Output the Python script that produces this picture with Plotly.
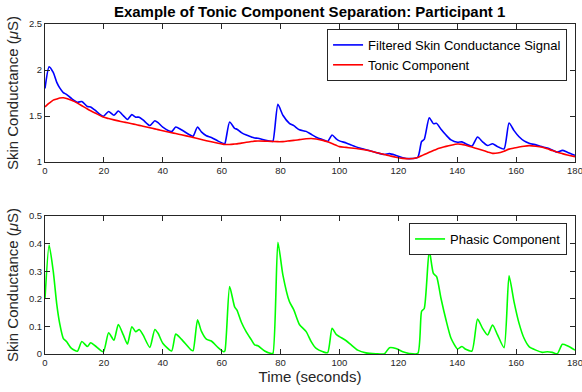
import plotly.graph_objects as go

time_s = [0, 1.4, 2.8, 4.0, 5.0, 6.2, 7.3, 9.0, 11.0, 12.5, 14.4, 15.5, 17.0, 19.8, 21.6, 23.4, 24.9, 26.6, 28.0, 29.5,
          30.8, 32.0, 33.3, 35.6, 37.3, 38.4, 40.0, 43.0, 44.4, 46.3, 49.7, 50.3, 51.8, 53.1, 54.8, 56.5, 58.8, 60.7, 61.1, 62.7,
          64.4, 65.2, 66.7, 68.4, 70.1, 71.2, 72.3, 74.6, 76.8, 77.4, 79.1, 80.8, 83.0, 84.5, 86.4, 88.7, 90.4, 92.1, 94.4, 96.0,
          97.5, 98.9, 100.0, 102.3, 104.0, 106.2, 109.0, 112.4, 115.3, 117.0, 119.2, 121.5, 123.7, 126.6, 127.9, 128.8, 130.5, 131.9, 133.0, 134.5,
          136.2, 137.9, 140.1, 141.6, 142.9, 145.0, 146.9, 148.6, 150.3, 152.0, 153.7, 155.9, 157.6, 159.3, 161.0, 162.7, 164.4, 166.7, 168.9, 170.6,
          172.3, 174.0, 175.7, 177.4, 180.0]

phasic = [0.20, 0.395, 0.30, 0.18, 0.11, 0.057, 0.045, 0.02, 0.01, 0.045, 0.027, 0.041, 0.03, 0.008, 0.077, 0.05, 0.107, 0.069, 0.036, 0.099,
          0.081, 0.089, 0.069, 0.024, 0.089, 0.075, 0.039, 0.011, 0.072, 0.054, 0.014, 0.012, 0.124, 0.083, 0.054, 0.047, 0.023, 0.008, 0.011, 0.244,
          0.171, 0.159, 0.115, 0.079, 0.051, 0.033, 0.03, 0.011, 0.002, 0.002, 0.405, 0.286, 0.19, 0.16, 0.107, 0.081, 0.045, 0.02, 0.008, 0.005,
          0.093, 0.071, 0.063, 0.048, 0.033, 0.014, 0.004, 0.001, 0.001, 0.023, 0.02, 0.008, 0.002, 0.002, 0.155, 0.165, 0.376, 0.292, 0.28, 0.201,
          0.123, 0.057, 0.018, 0.027, 0.017, 0.011, 0.127, 0.093, 0.069, 0.105, 0.069, 0.023, 0.283, 0.189, 0.111, 0.057, 0.027, 0.014, 0.006, 0.008,
          0.006, 0.001, 0.035, 0.03, 0.014]

tonic = [1.600, 1.639, 1.673, 1.685, 1.695, 1.698, 1.690, 1.670, 1.640, 1.612, 1.576, 1.557, 1.533, 1.488, 1.472, 1.458, 1.447, 1.435, 1.426, 1.416,
         1.407, 1.398, 1.389, 1.372, 1.360, 1.352, 1.340, 1.319, 1.309, 1.296, 1.272, 1.268, 1.256, 1.245, 1.232, 1.220, 1.204, 1.192, 1.190, 1.191,
         1.195, 1.197, 1.205, 1.214, 1.222, 1.227, 1.229, 1.227, 1.224, 1.223, 1.221, 1.222, 1.230, 1.235, 1.243, 1.252, 1.256, 1.250, 1.235, 1.219,
         1.200, 1.181, 1.167, 1.159, 1.152, 1.144, 1.130, 1.103, 1.081, 1.068, 1.051, 1.039, 1.035, 1.050, 1.068, 1.081, 1.105, 1.125, 1.140, 1.155,
         1.170, 1.183, 1.196, 1.192, 1.181, 1.162, 1.144, 1.127, 1.110, 1.094, 1.098, 1.118, 1.140, 1.152, 1.163, 1.172, 1.178, 1.172, 1.160, 1.143,
         1.124, 1.106, 1.091, 1.077, 1.058]

filtered = [1.800, 2.034, 1.973, 1.865, 1.805, 1.755, 1.735, 1.690, 1.650, 1.657, 1.603, 1.598, 1.563, 1.496, 1.549, 1.508, 1.554, 1.504, 1.462, 1.515,
            1.488, 1.487, 1.458, 1.396, 1.449, 1.427, 1.379, 1.330, 1.381, 1.350, 1.286, 1.280, 1.380, 1.328, 1.286, 1.267, 1.227, 1.200, 1.201, 1.435,
            1.366, 1.356, 1.320, 1.293, 1.273, 1.260, 1.259, 1.238, 1.226, 1.225, 1.626, 1.508, 1.420, 1.395, 1.350, 1.333, 1.301, 1.270, 1.243, 1.224,
            1.293, 1.252, 1.230, 1.207, 1.185, 1.158, 1.134, 1.104, 1.082, 1.091, 1.071, 1.047, 1.037, 1.052, 1.223, 1.246, 1.481, 1.417, 1.420, 1.356,
            1.293, 1.240, 1.214, 1.219, 1.198, 1.173, 1.271, 1.220, 1.179, 1.199, 1.167, 1.141, 1.423, 1.341, 1.274, 1.229, 1.205, 1.186, 1.166, 1.151,
            1.130, 1.107, 1.126, 1.107, 1.072]

x_ticks = [0, 20, 40, 60, 80, 100, 120, 140, 160, 180]
top_y_ticks = [1, 1.5, 2, 2.5]
bottom_y_ticks = [0, 0.1, 0.2, 0.3, 0.4, 0.5]

FONT = "Liberation Sans, Arial, Helvetica, sans-serif"
AXC = "#262626"

fig = go.Figure()
fig.add_trace(go.Scatter(x=time_s, y=filtered, mode="lines", name="Filtered Skin Conductance Signal",
                         line=dict(color="#0000ff", width=1.6, shape="spline", smoothing=0.6),
                         xaxis="x", yaxis="y", legend="legend"))
fig.add_trace(go.Scatter(x=time_s, y=tonic, mode="lines", name="Tonic Component",
                         line=dict(color="#ff0000", width=1.6, shape="spline", smoothing=0.6),
                         xaxis="x", yaxis="y", legend="legend"))
fig.add_trace(go.Scatter(x=time_s, y=phasic, mode="lines", name="Phasic Component",
                         line=dict(color="#00ff00", width=1.6, shape="spline", smoothing=0.6),
                         xaxis="x2", yaxis="y2", legend="legend2"))

axis_common = dict(showline=True, linecolor=AXC, linewidth=1, mirror="ticks", ticks="inside",
                   ticklen=5, tickcolor=AXC, showgrid=False, zeroline=False,
                   ticklabeloverflow="allow", automargin=False,
                   tickfont=dict(family=FONT, size=9.5, color=AXC))

title_font = dict(family=FONT, size=15, color=AXC)

fig.update_layout(
    width=582, height=392,
    margin=dict(l=45, r=7, t=24, b=38, autoexpand=False),
    paper_bgcolor="white", plot_bgcolor="white",
    font=dict(family=FONT, color=AXC),
    title=dict(text="<b>Example of Tonic Component Separation: Participant 1</b>",
               x=0.532, xanchor="center", y=0.97, yanchor="middle",
               font=dict(family=FONT, size=15, color="black")),
    xaxis=dict(domain=[0, 1], anchor="y", range=[0, 180], tickvals=x_ticks, **axis_common),
    yaxis=dict(domain=[0.5818, 1.0], anchor="x", range=[1, 2.5], tickvals=top_y_ticks,
               title=dict(text="Skin Conductance (<i>μ</i>S)", font=title_font, standoff=6),
               **axis_common),
    xaxis2=dict(domain=[0, 1], anchor="y2", range=[0, 180], tickvals=x_ticks,
                title=dict(text="Time (seconds)", font=title_font, standoff=4),
                **axis_common),
    yaxis2=dict(domain=[0, 0.4182], anchor="x2", range=[0, 0.5], tickvals=bottom_y_ticks,
                title=dict(text="Skin Conductance (<i>μ</i>S)", font=title_font, standoff=6),
                **axis_common),
    legend=dict(x=0.985, xanchor="right", y=0.985, yanchor="top", bgcolor="white",
                bordercolor=AXC, borderwidth=1, font=dict(family=FONT, size=13, color="black"),
                tracegroupgap=0, itemwidth=30),
    legend2=dict(x=0.985, xanchor="right", y=0.397, yanchor="top", bgcolor="white",
                 bordercolor=AXC, borderwidth=1, font=dict(family=FONT, size=13, color="black"),
                 itemwidth=30),
)

fig.write_html("out.html")
